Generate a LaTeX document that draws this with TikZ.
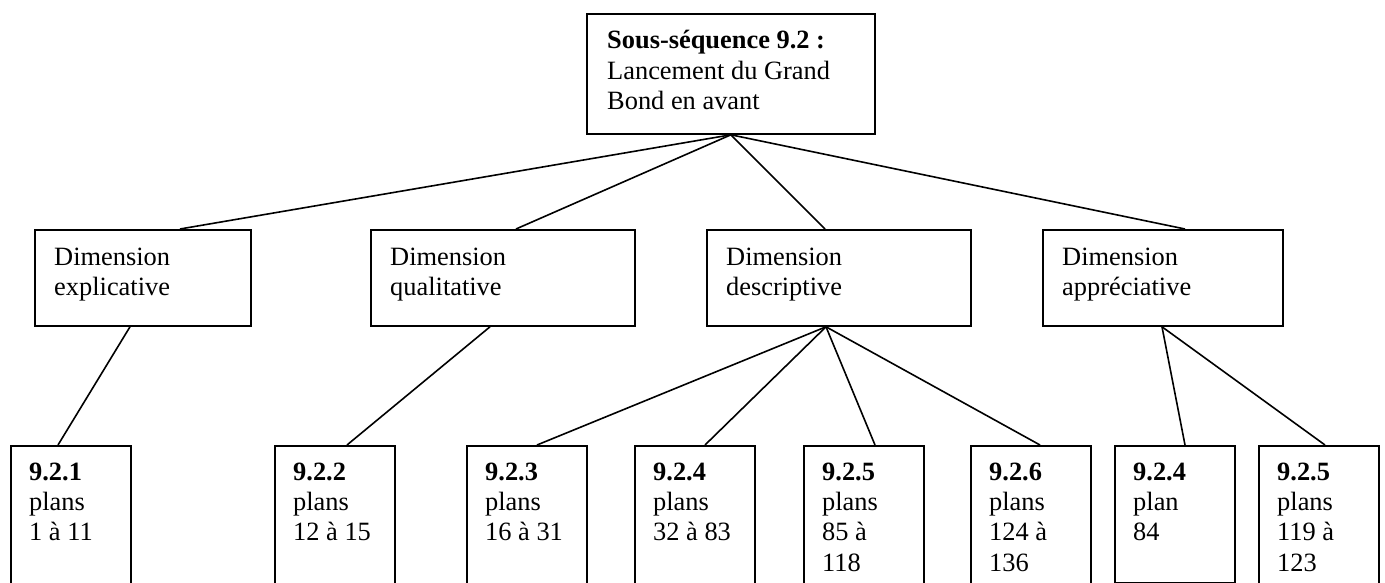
\documentclass[tikz,border=0pt]{standalone}
\usepackage{fontspec}
\setmainfont{Liberation Serif}
\usetikzlibrary{calc}
\begin{document}
\begin{tikzpicture}[x=1pt,y=-1pt,
  box/.style={draw, line width=1.8pt, rectangle, inner sep=0pt, anchor=north west},
  txt/.style={inner sep=0pt, anchor=base west, font=\fontsize{26.4}{30.4}\selectfont},
  link/.style={line width=1.6pt}]
\clip (0,0) rectangle (1385,583);
\useasboundingbox (0,0) rectangle (1385,583);
\fill[white] (0,0) rectangle (1385,583);
% boxes
\node[box, minimum width=288pt, minimum height=120pt] (top) at (586,13) {};
\node[box, minimum width=216pt, minimum height=96pt] (d1) at (34,229) {};
\node[box, minimum width=264pt, minimum height=96pt] (d2) at (370,229) {};
\node[box, minimum width=264pt, minimum height=96pt] (d3) at (706,229) {};
\node[box, minimum width=240pt, minimum height=96pt] (d4) at (1042,229) {};
\node[box, minimum width=120pt, minimum height=170pt] (b1) at (10,445) {};
\node[box, minimum width=120pt, minimum height=170pt] (b2) at (274,445) {};
\node[box, minimum width=120pt, minimum height=170pt] (b3) at (466,445) {};
\node[box, minimum width=120pt, minimum height=170pt] (b4) at (634,445) {};
\node[box, minimum width=120pt, minimum height=170pt] (b5) at (803,445) {};
\node[box, minimum width=120pt, minimum height=170pt] (b6) at (970,445) {};
\node[box, minimum width=120pt, minimum height=137pt] (b7) at (1114,445) {};
\node[box, minimum width=120pt, minimum height=170pt] (b8) at (1258,445) {};
% texts
\node[txt] (ttop) at ($(top.north west)+(21,36)$) {\parbox[t]{260pt}{\raggedright\textbf{Sous-séquence 9.2 :}\\Lancement du Grand\\Bond en avant}};
\node[txt] (td1) at ($(d1.north west)+(20,36)$) {\parbox[t]{190pt}{\raggedright Dimension\\explicative}};
\node[txt] (td2) at ($(d2.north west)+(20,36)$) {\parbox[t]{230pt}{\raggedright Dimension\\qualitative}};
\node[txt] (td3) at ($(d3.north west)+(20,36)$) {\parbox[t]{230pt}{\raggedright Dimension\\descriptive}};
\node[txt] (td4) at ($(d4.north west)+(20,36)$) {\parbox[t]{210pt}{\raggedright Dimension\\appréciative}};
\node[txt] (tb1) at ($(b1.north west)+(19,35)$) {\parbox[t]{100pt}{\raggedright\textbf{9.2.1}\\plans\\1 à 11}};
\node[txt] (tb2) at ($(b2.north west)+(19,35)$) {\parbox[t]{100pt}{\raggedright\textbf{9.2.2}\\plans\\12 à 15}};
\node[txt] (tb3) at ($(b3.north west)+(19,35)$) {\parbox[t]{100pt}{\raggedright\textbf{9.2.3}\\plans\\16 à 31}};
\node[txt] (tb4) at ($(b4.north west)+(19,35)$) {\parbox[t]{100pt}{\raggedright\textbf{9.2.4}\\plans\\32 à 83}};
\node[txt] (tb5) at ($(b5.north west)+(19,35)$) {\parbox[t]{100pt}{\raggedright\textbf{9.2.5}\\plans\\85 à\\118}};
\node[txt] (tb6) at ($(b6.north west)+(19,35)$) {\parbox[t]{100pt}{\raggedright\textbf{9.2.6}\\plans\\124 à\\136}};
\node[txt] (tb7) at ($(b7.north west)+(19,35)$) {\parbox[t]{100pt}{\raggedright\textbf{9.2.4}\\plan\\84}};
\node[txt] (tb8) at ($(b8.north west)+(19,35)$) {\parbox[t]{100pt}{\raggedright\textbf{9.2.5}\\plans\\119 à\\123}};
% connectors
\draw[link] (top.south) -- ($(d1.north west)+(146,0)$);
\draw[link] (top.south) -- ($(d2.north west)+(146,0)$);
\draw[link] (top.south) -- ($(d3.north west)+(119,0)$);
\draw[link] (top.south) -- ($(d4.north west)+(143,0)$);
\draw[link] ($(d1.south west)+(96,0)$) -- ($(b1.north west)+(48,0)$);
\draw[link] ($(d2.south west)+(120,0)$) -- ($(b2.north west)+(73,0)$);
\draw[link] ($(d3.south west)+(120,0)$) -- ($(b3.north west)+(71,0)$);
\draw[link] ($(d3.south west)+(120,0)$) -- ($(b4.north west)+(71,0)$);
\draw[link] ($(d3.south west)+(120,0)$) -- ($(b5.north west)+(72,0)$);
\draw[link] ($(d3.south west)+(120,0)$) -- ($(b6.north west)+(70,0)$);
\draw[link] ($(d4.south west)+(120,0)$) -- ($(b7.north west)+(71,0)$);
\draw[link] ($(d4.south west)+(120,0)$) -- ($(b8.north west)+(67,0)$);
\end{tikzpicture}
\end{document}
